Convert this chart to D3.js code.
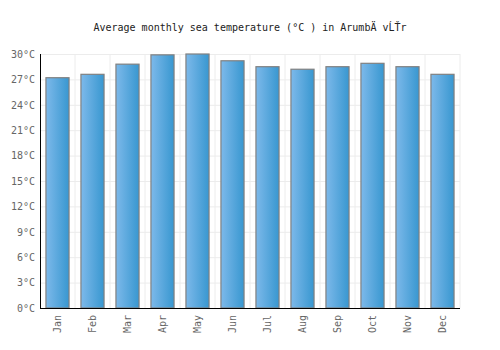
<!DOCTYPE html>
<html lang="en">
<head>
    <meta charset="UTF-8">
    <title>Average monthly sea temperature</title>
    <script src="https://d3js.org/d3.v7.min.js"></script>
    <style>
        body { margin: 0; background: #fff; }
        svg text { font-family: "DejaVu Sans Mono", monospace; }
        .tick line { stroke: #ececec; }
        .tick text { fill: #666; font-size: 10px; }
        .domain { display: none; }
    </style>
</head>
<body>
    <svg width="500" height="350"></svg>

    <script>
        const months = ["Jan", "Feb", "Mar", "Apr", "May", "Jun", "Jul", "Aug", "Sep", "Oct", "Nov", "Dec"];
        const temps = [27.2, 27.6, 28.8, 29.9, 30.0, 29.2, 28.5, 28.2, 28.5, 28.9, 28.5, 27.6];
        const yTicks = [0, 3, 6, 9, 12, 15, 18, 21, 24, 27, 30];

        const margin = { top: 54, right: 40, bottom: 42, left: 40 };
        const width = 500 - margin.left - margin.right;
        const height = 350 - margin.top - margin.bottom;

        const root = d3.select("svg");

        const defs = root.append("defs");
        const grad = defs.append("linearGradient")
            .attr("id", "barGrad")
            .attr("x1", "0%").attr("x2", "100%")
            .attr("y1", "0%").attr("y2", "0%");
        grad.append("stop").attr("offset", "0%").attr("stop-color", "#7db9ea");
        grad.append("stop").attr("offset", "100%").attr("stop-color", "#3897d0");

        root.append("text")
            .attr("x", 250)
            .attr("y", 31)
            .attr("text-anchor", "middle")
            .style("font-size", "10px")
            .style("fill", "#222")
            .text("Average monthly sea temperature (°C ) in ArumbÄ vĹŤr");

        const svg = root.append("g")
            .attr("transform", `translate(${margin.left},${margin.top})`);

        const x = d3.scaleBand().domain(months).range([0, width]).paddingInner(0.34).paddingOuter(0.17);
        const xb = d3.scaleBand().domain(months).range([0, width]);
        const y = d3.scaleLinear().domain([0, 30]).range([height, 0]);

        // horizontal grid + y labels
        svg.append("g")
            .call(d3.axisLeft(y).tickValues(yTicks).tickSize(-width).tickPadding(5).tickFormat(d => d + "°C"))
            .call(g => g.selectAll(".tick line").attr("stroke", "#ececec"));

        // vertical grid at band boundaries
        svg.append("g")
            .selectAll("line")
            .data(months)
            .join("line")
            .attr("x1", d => xb(d) + xb.bandwidth())
            .attr("x2", d => xb(d) + xb.bandwidth())
            .attr("y1", 0)
            .attr("y2", height)
            .attr("stroke", "#ececec");

        svg.selectAll(".bar")
            .data(temps)
            .join("rect")
            .attr("class", "bar")
            .attr("x", (d, i) => x(months[i]))
            .attr("width", x.bandwidth())
            .attr("y", d => y(d))
            .attr("height", d => height - y(d))
            .attr("fill", "url(#barGrad)")
            .attr("stroke", "#808080")
            .attr("stroke-width", 1.2);

        // x labels
        const xAxis = svg.append("g")
            .attr("transform", `translate(0,${height})`)
            .call(d3.axisBottom(xb).tickSize(0).tickPadding(0));
        xAxis.selectAll("text")
            .attr("transform", "rotate(-90)")
            .attr("text-anchor", "end")
            .attr("x", -7)
            .attr("y", 0)
            .attr("dy", "0.35em");

        // axis lines
        svg.append("line")
            .attr("x1", 0.5).attr("x2", 0.5).attr("y1", 0).attr("y2", height)
            .attr("stroke", "#000");
        svg.append("line")
            .attr("x1", 0).attr("x2", width).attr("y1", height + 0.5).attr("y2", height + 0.5)
            .attr("stroke", "#000");
    </script>
</body>
</html>
